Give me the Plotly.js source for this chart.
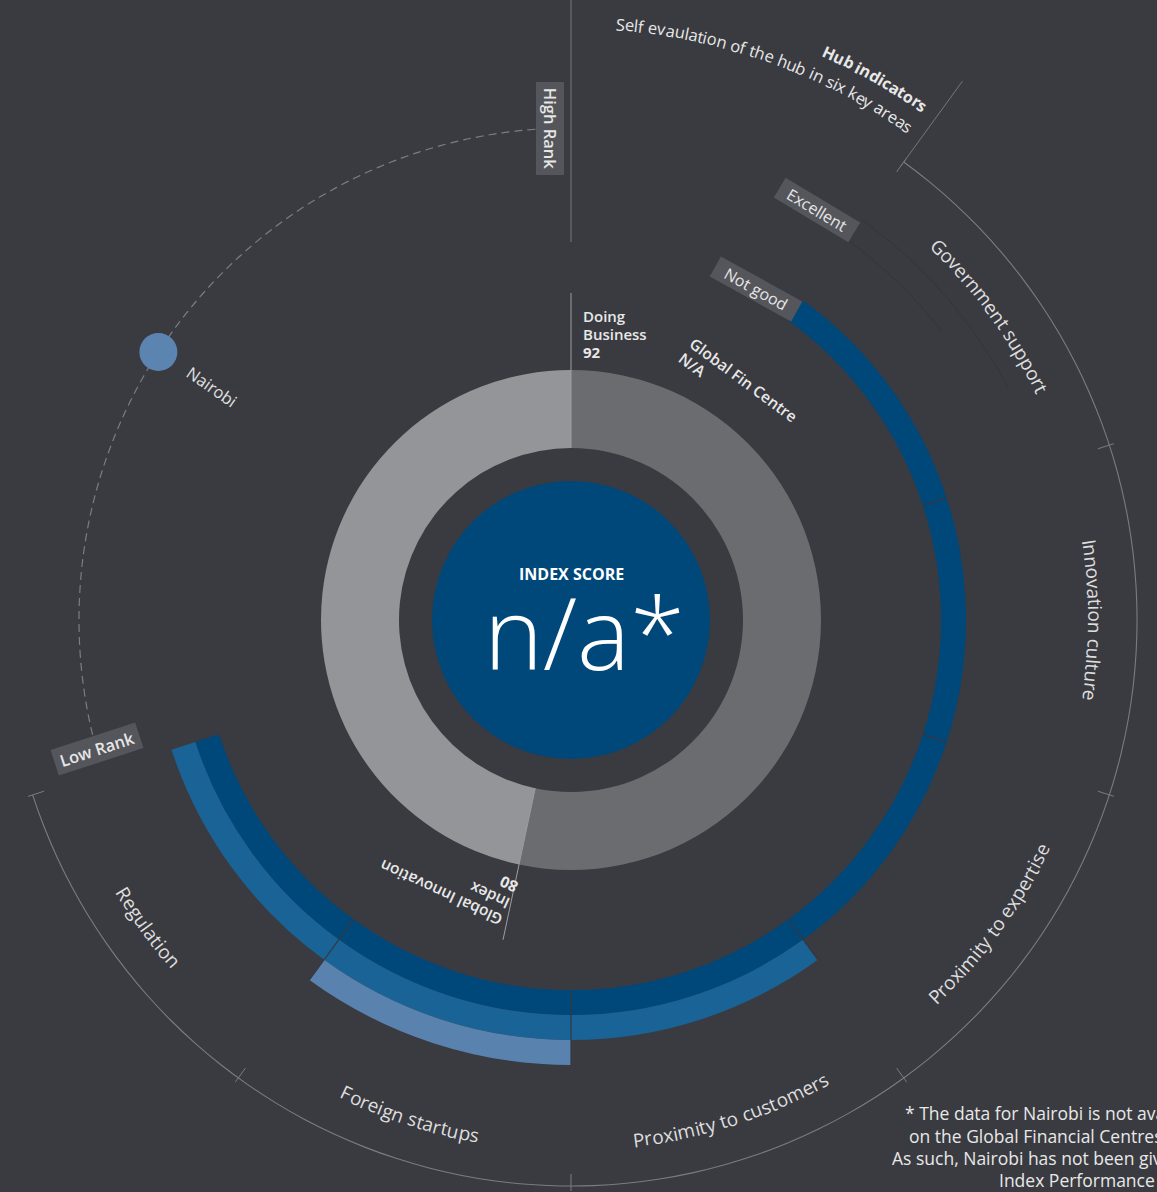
<!DOCTYPE html>
<html>
<head>
<meta charset="utf-8">
<script src="https://cdn.plot.ly/plotly-3.0.1.min.js"></script>
<style>
  html, body { margin: 0; padding: 0; background: #3a3b41; }
  #chart { width: 1157px; height: 1192px; }
</style>
</head>
<body>
<div id="chart"></div>
<script>
// DATA
const sectors = ["Government support", "Innovation culture", "Proximity to expertise",
                 "Proximity to customers", "Foreign startups", "Regulation"];
const sectorScores = [1, 1, 1, 2, 3, 2];            // 1 = Not good ... 5 = Excellent
const sectorAngles = [54, 90, 126, 162, 198, 234];  // sector centres, degrees clockwise from top
const sectorSpan = 36;

const rankNames = ["Doing Business", "Global Fin Centre", "Global Innovation Index"];
const rankValues = ["92", "N/A", "80"];
const donutBreaks = [0, 192, 360];
const pointerAngles = [0, 192];

const rankArc = [256.5, 356];     // low rank .. high rank
const cityName = "Nairobi";
const cityRankAngle = 303;

// GEOMETRY
const W = 1157, H = 1192, CX = 571, CY = 620, R = 571;
const BG = "#3a3b41";
const FONT = "Open Sans";
const bandBase = 370, bandStep = 25;
const layerColors = ["#00477a", "#1a6396", "#5a82ae", "#7d9dc4", "#a9c1dc"];

function toPx(theta, r) {
  const a = theta * Math.PI / 180;
  return [CX + r * Math.sin(a), CY - r * Math.cos(a)];
}
const ctx = document.createElement("canvas").getContext("2d");
function measure(txt, size, weight) {
  ctx.font = `${weight} ${size}px "${FONT}"`;
  return ctx.measureText(txt).width;
}

//*********ANNOTATIONS********
const annotations = [];
function note(x, y, text, o = {}) {
  annotations.push(Object.assign({
    x: x / W, y: 1 - y / H, xref: "paper", yref: "paper",
    text: text, showarrow: false,
    xanchor: "center", yanchor: "middle", textangle: o.angle || 0,
    font: { family: FONT, size: o.size || 15, weight: o.weight || 400, color: o.color || "#e6e6e6" },
  }, o.extra || {}));
}

// text bent along a circle, one glyph per annotation
function arcText(text, theta, r, o) {
  const size = o.size, weight = o.weight || 400;
  const flip = theta > 90 && theta < 270;
  const dir = flip ? -1 : 1;
  const deg = 180 / Math.PI / r;
  const total = measure(text, size, weight);
  const start = o.end !== undefined ? o.end - dir * total * deg : theta - dir * total * deg / 2;
  [...text].forEach((ch, i) => {
    if (ch === " ") return;
    const mid = measure(text.slice(0, i), size, weight) + measure(ch, size, weight) / 2;
    const a = start + dir * mid * deg;
    const [x, y] = toPx(a, r);
    note(x, y, ch, { size: size, weight: weight, color: o.color, angle: flip ? a - 180 : a });
  });
}

// straight left-aligned block of lines, rotated
function textLines(lines, x0, y0, angle, gap, o) {
  const a = angle * Math.PI / 180;
  const ux = Math.cos(a), uy = Math.sin(a), vx = -Math.sin(a), vy = Math.cos(a);
  lines.forEach((ln, i) => {
    const w = measure(ln.t, o.size, ln.w || o.weight);
    note(x0 + ux * w / 2 + vx * gap * i, y0 + uy * w / 2 + vy * gap * i, ln.t,
      { size: o.size, weight: ln.w || o.weight, color: o.color, angle: angle });
  });
}

// centre
note(571, 574, "INDEX SCORE", { size: 16, weight: 700, color: "#ffffff" });
note(584, 631, "n/a*", { size: 100, weight: 300, color: "#ffffff" });

// rank indicators
textLines([{ t: "Doing" }, { t: "Business" }, { t: rankValues[0], w: 700 }], 583, 316, 0, 18,
  { size: 15, weight: 600, color: "#e8e8e8" });
textLines([{ t: "Global Fin Centre" }, { t: rankValues[1] }], 692, 342, 36.5, 18,
  { size: 15.5, weight: 600, color: "#e8e8e8" });
textLines([{ t: "Global Innovation" }, { t: "Index" }, { t: rankValues[2], w: 700 }], 501, 921, -155, 18,
  { size: 15.5, weight: 600, color: "#e8e8e8" });

// sector labels
sectors.forEach((s, i) => arcText(s, sectorAngles[i], 524, { size: 19, color: "#dedede" }));

// header
arcText("Self evaulation of the hub in six key areas", 20, 598, { size: 16.5, end: 34.7, color: "#e8e8e8" });
arcText("Hub indicators", 30, 623, { size: 16, weight: 700, end: 34.7, color: "#e8e8e8" });

// scale boxes
const boxStyle = (w, h) => ({ bgcolor: "#55565c", width: w, height: h, borderpad: 0 });
note(756, 289, "Not good", { size: 16, angle: 29, extra: boxStyle(92, 22) });
note(817, 210, "Excellent", { size: 16, angle: 31, extra: boxStyle(86, 22) });
note(550, 128.5, "High Rank", { size: 16.5, weight: 600, angle: 90, extra: boxStyle(92, 27) });
note(97, 749, "Low Rank", { size: 16.5, weight: 600, angle: -18, extra: boxStyle(88, 26) });
note(212, 386, cityName, { size: 16.5, angle: 35, color: "#e0e0e0" });

// footnote (runs off the right edge, as in the printed page)
const footLines = ["* The data for Nairobi is not available", "on the Global Financial Centres Index.",
                   "As such, Nairobi has not been given an", "Index Performance"];
const footX = [903, 907, 890, 997], footY = [1113, 1136, 1158, 1180];
footLines.forEach((t, i) => note(footX[i], footY[i], t,
  { size: 17.5, color: "#e8e8e8", extra: { xanchor: "left" } }));

//*********TRACES********
const traces = [];

// faint guides of the top score level
traces.push({
  type: "barpolar", theta: [49, 44], width: [26, 16], r: [1, 1], base: [494.5, 469.5],
  marker: { color: "#35363c", line: { width: 0 } }, hoverinfo: "skip",
});

// gray donut
traces.push({
  type: "barpolar",
  theta: donutBreaks.slice(1).map((b, i) => (b + donutBreaks[i]) / 2),
  width: donutBreaks.slice(1).map((b, i) => b - donutBreaks[i]),
  r: [78, 78], base: 172,
  marker: { color: ["#6a6c70", "#949599"], line: { width: 0 } },
  hoverinfo: "skip",
});

// index score disc
traces.push({
  type: "barpolar", theta: [90, 270], width: [180, 180], r: [139, 139], base: 0,
  marker: { color: "#00477a", line: { width: 0 } }, hoverinfo: "skip",
});

// score bands, one ring per level
const maxScore = Math.max(...sectorScores);
for (let k = 1; k <= maxScore; k++) {
  const idx = sectorScores.map((s, i) => (s >= k ? i : -1)).filter((i) => i >= 0);
  traces.push({
    type: "barpolar",
    theta: idx.map((i) => sectorAngles[i]),
    width: idx.map(() => sectorSpan),
    r: idx.map(() => bandStep),
    base: bandBase + bandStep * (k - 1),
    marker: { color: layerColors[k - 1], line: { width: 0 } },
    hoverinfo: "skip",
  });
}

// separators between neighbouring bands
const sepT = [], sepR = [];
for (let i = 0; i < sectors.length - 1; i++) {
  const a = sectorAngles[i] + sectorSpan / 2;
  sepT.push(a, a, null);
  sepR.push(bandBase, bandBase + bandStep * Math.max(sectorScores[i], sectorScores[i + 1]), null);
}
traces.push({
  type: "scatterpolar", mode: "lines", theta: sepT, r: sepR,
  line: { color: "#35383f", width: 1.2 }, hoverinfo: "skip",
});

// outer sector arc and ticks
const arcStart = sectorAngles[0] - sectorSpan / 2;
const arcEnd = sectorAngles[sectorAngles.length - 1] + sectorSpan / 2;
traces.push({
  type: "barpolar", theta: [(arcStart + arcEnd) / 2], width: [arcEnd - arcStart],
  r: [1.1], base: 565.5,
  marker: { color: "#7b7c81", line: { width: 0 } }, hoverinfo: "skip",
});
const tickT = [], tickR = [];
for (let a = arcStart; a <= arcEnd; a += sectorSpan) {
  tickT.push(a, a, null);
  tickR.push(554, 578, null);
}
traces.push({
  type: "scatterpolar", mode: "lines", theta: tickT, r: tickR,
  line: { color: "#7b7c81", width: 1 }, hoverinfo: "skip",
});

// rank indicator pointers
const ptT = [], ptR = [];
pointerAngles.forEach((a) => { ptT.push(a, a, null); ptR.push(172, 327, null); });
traces.push({
  type: "scatterpolar", mode: "lines", theta: ptT, r: ptR,
  line: { color: "#9c9da1", width: 1 }, hoverinfo: "skip",
});

// dashed rank arc
const rankT = [];
for (let a = rankArc[0]; a <= rankArc[1]; a += 0.5) rankT.push(a);
traces.push({
  type: "scatterpolar", mode: "lines", theta: rankT, r: rankT.map(() => 492),
  line: { color: "#7c7d82", width: 1.2, dash: "8px,5px" }, hoverinfo: "skip",
});

// city position on rank arc
traces.push({
  type: "scatterpolar", mode: "markers", theta: [cityRankAngle], r: [492],
  marker: { size: 38, color: "#5b84b1", line: { width: 0 } }, hoverinfo: "skip",
});

//*********SHAPES********
const guide = { type: "line", xref: "paper", yref: "paper", line: { color: "#76777c", width: 1 } };
function seg(theta, r0, r1) {
  const [x0, y0] = toPx(theta, r0), [x1, y1] = toPx(theta, r1);
  return Object.assign({}, guide, { x0: x0 / W, y0: 1 - y0 / H, x1: x1 / W, y1: 1 - y1 / H });
}
const shapes = [seg(0, 378, 650), seg(arcStart, 560, 666)];

//*********LAYOUT********
const layout = {
  width: W, height: H,
  margin: { l: 0, r: 0, t: 0, b: 0 },
  paper_bgcolor: BG, plot_bgcolor: BG,
  showlegend: false,
  font: { family: FONT, color: "#e6e6e6" },
  polar: {
    domain: { x: [(CX - R) / W, (CX + R) / W], y: [(H - CY - R) / H, (H - CY + R) / H] },
    bgcolor: "rgba(0,0,0,0)",
    bargap: 0,
    radialaxis: { range: [0, R], visible: false },
    angularaxis: { rotation: 90, direction: "clockwise", visible: false },
  },
  annotations: annotations,
  shapes: shapes,
};

Plotly.newPlot("chart", traces, layout, { displayModeBar: false, staticPlot: true });
</script>
</body>
</html>
